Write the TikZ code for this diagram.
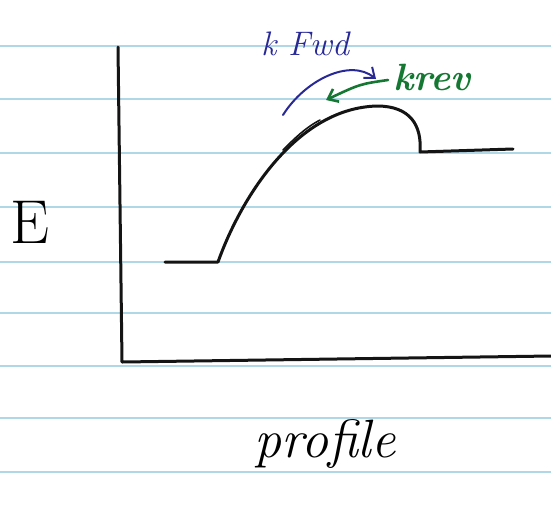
\documentclass[tikz,border=0pt]{standalone}
\usepackage{xcolor}
\definecolor{padLine} {RGB}{175, 215, 232}
\definecolor{penBlack}{RGB}{ 20,  20,  20}
\definecolor{penBlue} {RGB}{ 40,  40, 150}
\definecolor{penGreen}{RGB}{ 20, 120,  50}
\usepackage{tikz}
\usetikzlibrary{arrows.meta, positioning}

\begin{document}
\begin{tikzpicture}[
  x=1pt, y=-1pt,
  >={Straight Barb[length=9pt,width=14pt]},
  ink/.style={line width=3pt, color=penBlack, line cap=round, line join=round},
  pen/.style={line width=2pt, line cap=round, line join=round},
  hand/.style={font=\itshape, inner sep=0pt},
]
  \useasboundingbox (0,0) rectangle (551,507);
  \fill[white] (0,0) rectangle (551,507);

  % ruled paper
  \foreach \y in {46,99,153,207,262,313,366,418,472}
    \draw[padLine, line width=1.6pt] (0,\y) -- (551,\y);

  % axes
  \coordinate (ytop) at (118,47);
  \coordinate (orig) at (122,362);
  \coordinate (xend) at (551,356);
  \draw[ink] (ytop) -- (orig) -- (xend);

  % energy profile
  \coordinate (react) at (165,262);
  \coordinate (rise)  at (218,262);
  \coordinate (peak)  at (377,106);
  \coordinate (drop)  at (420,152);
  \coordinate (prod)  at (513,149);
  \draw[ink] (react) -- (rise)
    .. controls (242,195) and (298,108) .. (peak)
    .. controls (410,106) and (422,125) .. (drop)
    -- (prod);
  \draw[ink, line width=1.6pt] (283,150) .. controls (295,138) and (305,128) .. (320,120);

  % rate labels
  \node[hand, text=penBlue, font=\itshape\fontsize{34}{34}\selectfont] (kfwd) at (305,44) {k Fwd};
  \node[hand, text=penGreen, font=\bfseries\itshape\fontsize{38}{38}\selectfont] (krev) at (432,77) {krev};
  \coordinate (fwdA) at (283,115);
  \coordinate (fwdB) at (376,79);
  \coordinate (revA) at (388,80);
  \coordinate (revB) at (326,100);
  \draw[pen, penBlue, ->] (fwdA) .. controls (305,80) and (350,58) .. (fwdB);
  \draw[pen, penGreen, line width=2.6pt, ->] (revA) .. controls (360,84) .. (revB);

  % axis labels
  \node[hand, font=\fontsize{62}{62}\selectfont] (elab) at (30,222) {E};
  \node[hand, font=\itshape\fontsize{54}{54}\selectfont] (plab) at (325,444) {profile};
\end{tikzpicture}
\end{document}
